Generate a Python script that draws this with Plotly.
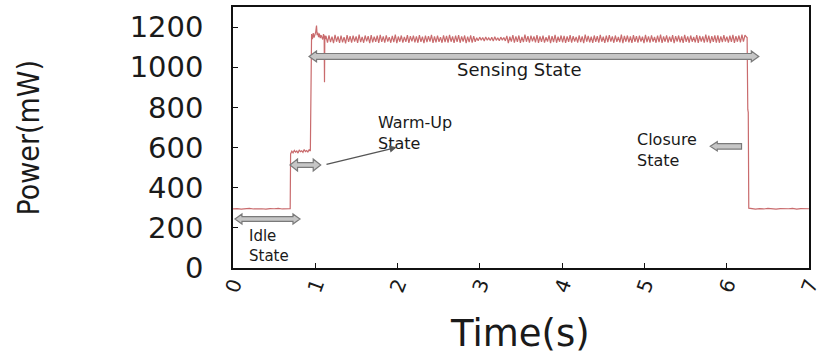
import numpy as np
import plotly.graph_objects as go

# ---- power trace, segment by segment (time in s, power in mW) ----
idle_t = [0.00, 0.05, 0.10, 0.15, 0.20, 0.25, 0.30, 0.35, 0.40, 0.45, 0.50, 0.55, 0.60, 0.65, 0.695]
idle_p = [294, 296, 293, 295, 297, 294, 296, 295, 293, 296, 295, 297, 294, 296, 295]

warm_t = [0.700, 0.715, 0.730, 0.745, 0.760, 0.775, 0.790, 0.805, 0.820,
          0.835, 0.850, 0.865, 0.880, 0.895, 0.910, 0.925, 0.940]
warm_p = [568, 582, 574, 586, 577, 583, 572, 588, 579, 584, 576, 590, 580, 585, 578, 589, 583]

ramp_t = [0.948, 0.955, 0.965, 0.975, 0.985, 0.995, 1.005, 1.015, 1.022, 1.030, 1.040,
          1.050, 1.060, 1.070, 1.080, 1.090, 1.100, 1.108, 1.112, 1.116, 1.125]
ramp_p = [1150, 1165, 1140, 1170, 1148, 1162, 1175, 1208, 1160, 1172, 1150,
          1168, 1145, 1160, 1152, 1138, 1165, 1150, 925, 1158, 1140]

# sensing period, sampled evenly between these two instants
sense_start, sense_end = 1.13, 6.24
sense_p = [
    1156, 1122, 1159, 1125, 1152, 1120, 1161, 1127, 1154, 1121, 1158, 1124, 1150, 1119, 1160, 1126, 1155, 1123, 1157, 1128,
    1153, 1121, 1162, 1125, 1151, 1122, 1158, 1129, 1155, 1120, 1160, 1124, 1152, 1127, 1157, 1121, 1161, 1126, 1154, 1123,
    1159, 1128, 1150, 1122, 1156, 1125, 1162, 1120, 1153, 1127, 1158, 1123, 1151, 1126, 1160, 1121, 1155, 1129, 1157, 1124,
    1154, 1122, 1160, 1126, 1152, 1120, 1158, 1125, 1155, 1128, 1161, 1121, 1153, 1124, 1157, 1127, 1150, 1122, 1159, 1125,
    1156, 1123, 1161, 1127, 1153, 1121, 1157, 1126, 1160, 1122, 1154, 1128, 1158, 1120, 1152, 1125, 1159, 1123, 1155, 1127,
    1147, 1132, 1150, 1134, 1148, 1131, 1151, 1135, 1146, 1133, 1149, 1130, 1152, 1134, 1147, 1132, 1150, 1135, 1148, 1131,
    1156, 1120, 1152, 1128, 1160, 1123, 1154, 1126, 1158, 1121, 1151, 1125, 1162, 1127, 1155, 1122, 1157, 1129, 1153, 1124,
    1160, 1121, 1154, 1126, 1157, 1123, 1150, 1128, 1159, 1120, 1155, 1125, 1161, 1122, 1152, 1127, 1158, 1124, 1156, 1121,
    1153, 1126, 1160, 1122, 1155, 1128, 1151, 1123, 1159, 1125, 1154, 1120, 1162, 1127, 1156, 1124, 1152, 1121, 1158, 1126,
    1155, 1123, 1161, 1127, 1152, 1121, 1157, 1125, 1160, 1128, 1153, 1122, 1158, 1126, 1151, 1124, 1162, 1120, 1156, 1127,
    1158, 1124, 1153, 1121, 1160, 1126, 1155, 1122, 1157, 1128, 1152, 1120, 1161, 1125, 1154, 1123, 1159, 1127, 1151, 1122,
    1157, 1125, 1162, 1121, 1154, 1127, 1159, 1123, 1152, 1126, 1160, 1120, 1155, 1128, 1158, 1124, 1153, 1121, 1161, 1126,
    1154, 1122, 1158, 1127, 1151, 1124, 1160, 1121, 1156, 1128, 1153, 1123, 1162, 1125, 1157, 1120, 1155, 1126, 1159, 1122,
    1159, 1122, 1154, 1125, 1160, 1128, 1152, 1123, 1157, 1126, 1161, 1121, 1155, 1127, 1158, 1124, 1163, 1128, 1160, 1150,
]

close_t = [6.248, 6.256, 6.262, 6.268, 6.30, 6.35, 6.40, 6.45, 6.50, 6.55, 6.60,
           6.65, 6.70, 6.75, 6.80, 6.85, 6.90, 6.95, 7.00]
close_p = [1148, 790, 775, 298, 295, 293, 296, 294, 297, 295, 293,
           296, 294, 295, 297, 293, 296, 294, 295]

sense_t = list(np.linspace(sense_start, sense_end, len(sense_p)))
time_s = idle_t + warm_t + ramp_t + sense_t + close_t
power_mw = idle_p + warm_p + ramp_p + sense_p + close_p

x_ticks = [0, 1, 2, 3, 4, 5, 6, 7]
y_ticks = [0, 200, 400, 600, 800, 1000, 1200]
x_range = [0, 7]
y_range = [0, 1300]

# ---- figure geometry ----
W, H = 821, 360
M = dict(l=233, r=12, t=7, b=92)
plot_w = W - M["l"] - M["r"]
plot_h = H - M["t"] - M["b"]
px_x = plot_w / (x_range[1] - x_range[0])   # pixels per second
px_y = plot_h / (y_range[1] - y_range[0])   # pixels per mW

FILL = "#c6c6c6"
EDGE = "#7a7a7a"
TXT = "#1a1a1a"
BODY_FONT = "DejaVu Sans, Verdana, sans-serif"


def block_arrow(x_from, x_to, yc, shaft=2.5, head=5.5, head_len=7.5, double=True):
    """Fat horizontal arrow path; sizes given in screen pixels."""
    sh, hh = shaft / px_y, head / px_y
    d = 1 if x_to > x_from else -1
    hl = head_len / px_x * d
    pts = []
    if double:
        pts += [(x_from, yc), (x_from + hl, yc + hh), (x_from + hl, yc + sh)]
    else:
        pts += [(x_from, yc + sh)]
    pts += [(x_to - hl, yc + sh), (x_to - hl, yc + hh), (x_to, yc),
            (x_to - hl, yc - hh), (x_to - hl, yc - sh)]
    if double:
        pts += [(x_from + hl, yc - sh), (x_from + hl, yc - hh)]
    else:
        pts += [(x_from, yc - sh)]
    path = "M " + " L ".join(f"{x:.5f},{y:.3f}" for x, y in pts) + " Z"
    return dict(type="path", path=path, xref="x", yref="y",
                fillcolor=FILL, line=dict(color=EDGE, width=1.2), layer="above")


fig = go.Figure()
fig.add_trace(go.Scatter(
    x=time_s, y=power_mw, mode="lines",
    line=dict(color="#c96b6d", width=1.2),
    hoverinfo="skip", showlegend=False,
))

shapes = [
    block_arrow(0.024, 0.814, 244, shaft=2.4, head=5.0, head_len=7),
    block_arrow(0.693, 1.066, 513, shaft=2.4, head=6.0, head_len=7.5),
    block_arrow(0.924, 6.390, 1054, shaft=2.9, head=5.4, head_len=7.5),
    block_arrow(6.180, 5.800, 606, shaft=2.7, head=4.6, head_len=7, double=False),
]


def label(x, y, text, size=15):
    return dict(x=x, y=y, xref="x", yref="y", text=text, showarrow=False,
                xanchor="left", yanchor="middle", align="left",
                font=dict(family=BODY_FONT, size=size, color=TXT))


annotations = [
    label(0.17, 111, "Idle<br>State"),
    label(1.74, 673, "Warm-Up<br>State", size=16),
    label(2.70, 988, "Sensing State", size=18),
    label(4.885, 587, "Closure<br>State", size=16),
    # pointer from the warm-up arrow to its label
    dict(x=1.989, y=601, ax=1.118, ay=514, xref="x", yref="y", axref="x", ayref="y",
         text="", showarrow=True, arrowhead=2, arrowsize=1.1, arrowwidth=1.3,
         arrowcolor="#555555"),
    # axis titles, placed at fixed pixel offsets from the plot area
    dict(x=0, y=0.5, xref="paper", yref="paper", text="Power(mW)", showarrow=False,
         textangle=-90, xanchor="center", yanchor="middle",
         xshift=28 - M["l"],
         font=dict(family="Liberation Sans Narrow, DejaVu Sans Condensed, Arial Narrow, sans-serif",
                   size=30, color=TXT)),
    dict(x=0.5, y=0, xref="paper", yref="paper", text="Time(s)", showarrow=False,
         xanchor="center", yanchor="middle", yshift=-65, xshift=520 - (M["l"] + plot_w / 2),
         font=dict(family=BODY_FONT, size=37, color=TXT)),
]

fig.update_layout(
    width=W, height=H, margin=dict(M, autoexpand=False),
    paper_bgcolor="white", plot_bgcolor="white",
    shapes=shapes, annotations=annotations,
    showlegend=False,
    xaxis=dict(
        range=x_range, tickmode="array", tickvals=x_ticks, ticktext=[str(v) for v in x_ticks],
        ticks="inside", ticklen=5, tickwidth=1.2, tickcolor="#111",
        showline=True, linecolor="#111", linewidth=1.5, mirror=True,
        showgrid=False, zeroline=False, tickangle=-70, ticklabelstandoff=-5,
        ticklabeloverflow="allow", automargin=False,
        tickfont=dict(family=BODY_FONT, size=20, color=TXT),
    ),
    yaxis=dict(
        range=y_range, tickmode="array", tickvals=y_ticks, ticktext=[str(v) for v in y_ticks],
        ticks="inside", ticklen=5, tickwidth=1.2, tickcolor="#111",
        showline=True, linecolor="#111", linewidth=1.5, mirror=True,
        showgrid=False, zeroline=False, ticklabelstandoff=22, automargin=False,
        tickfont=dict(family=BODY_FONT, size=29, color=TXT),
    ),
)

fig.write_html("out.html")
